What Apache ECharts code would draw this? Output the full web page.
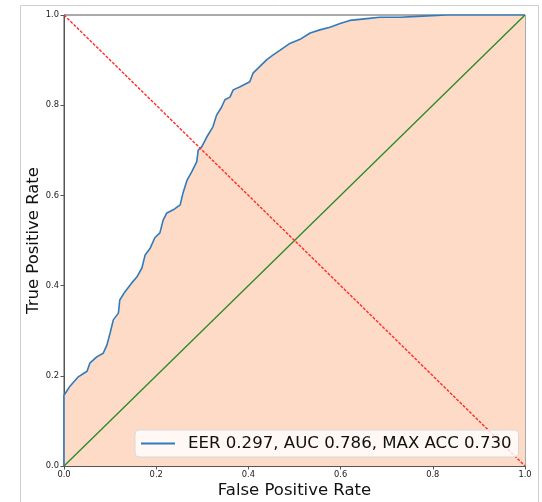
<!DOCTYPE html>
<html>
  <head>
    <meta charset="utf-8" />
    <title>ROC</title>
    <script src="https://cdn.jsdelivr.net/npm/echarts@6/dist/echarts.min.js"></script>
    <style>
      * {
        margin: 0;
        padding: 0;
        box-sizing: border-box;
      }
    </style>
  </head>
  <body>
    <div id="main" style="width: 542px; height: 502px"></div>
    <script type="text/javascript">
      var myChart = echarts.init(document.getElementById("main"));

      // ROC curve
      const fpr = [0, 0, 0.013, 0.03, 0.05, 0.056, 0.071, 0.085, 0.093, 0.1, 0.107, 0.118, 0.121, 0.132, 0.147, 0.158, 0.169, 0.176, 0.187, 0.197, 0.208, 0.215, 0.223, 0.237, 0.252, 0.258, 0.267, 0.277, 0.288, 0.291, 0.299, 0.31, 0.323, 0.331, 0.342, 0.349, 0.36, 0.367, 0.382, 0.403, 0.41, 0.425, 0.44, 0.453, 0.469, 0.49, 0.512, 0.534, 0.555, 0.577, 0.599, 0.62, 0.657, 0.685, 0.729, 0.766, 0.83, 1];
      const tpr = [0, 0.157, 0.177, 0.197, 0.21, 0.228, 0.242, 0.25, 0.268, 0.295, 0.324, 0.339, 0.368, 0.386, 0.406, 0.419, 0.439, 0.468, 0.483, 0.506, 0.517, 0.545, 0.561, 0.568, 0.579, 0.605, 0.634, 0.652, 0.675, 0.7, 0.708, 0.73, 0.752, 0.778, 0.796, 0.812, 0.818, 0.834, 0.841, 0.852, 0.871, 0.886, 0.901, 0.911, 0.922, 0.937, 0.946, 0.96, 0.967, 0.973, 0.981, 0.988, 0.992, 0.995, 0.995, 0.997, 1, 1];

      const eerLine = [[0, 1], [1, 0]];
      const chanceLine = [[0, 0], [1, 1]];
      const legendText = "EER 0.297, AUC 0.786, MAX ACC 0.730";

      const font = "DejaVu Sans";

      var option = {
        animation: false,
        graphic: [
          {
            // notebook output frame
            type: "rect",
            shape: { x: 20.5, y: 5.5, width: 518, height: 520 },
            style: { fill: "none", stroke: "#cfcfcf", lineWidth: 1 },
            silent: true,
          },
        ],
        grid: {
          left: 64,
          right: 17,
          top: 15,
          bottom: 36,
          outerBoundsMode: "none",
          show: true,
          borderColor: "#555",
          borderWidth: 1,
        },
        legend: {
          left: 135,
          top: 430,
          data: [{ name: legendText, icon: "rect" }],
          itemWidth: 34,
          itemHeight: 2,
          padding: [5, 7, 5, 6],
          backgroundColor: "rgba(255,255,255,0.8)",
          borderColor: "#d8d8d8",
          borderWidth: 1,
          borderRadius: 4,
          textStyle: {
            fontFamily: font,
            fontSize: 16.6,
            color: "#111",
            padding: [0, 0, 0, 8],
          },
        },
        xAxis: {
          type: "value",
          min: 0,
          max: 1,
          interval: 0.2,
          name: "False Positive Rate",
          nameLocation: "middle",
          nameGap: 16.5,
          nameMoveOverlap: false,
          nameTextStyle: { fontFamily: font, fontSize: 16.5, color: "#111" },
          splitLine: { show: false },
          axisLine: { lineStyle: { color: "#555", width: 1 } },
          axisTick: { length: 3.5, lineStyle: { color: "#555" } },
          axisLabel: {
            fontFamily: font,
            fontSize: 8.3,
            color: "#222",
            margin: 5,
            formatter: (v) => v.toFixed(1),
          },
        },
        yAxis: {
          type: "value",
          min: 0,
          max: 1,
          interval: 0.2,
          name: "True Positive Rate",
          nameLocation: "middle",
          nameGap: 22,
          nameMoveOverlap: false,
          nameTextStyle: { fontFamily: font, fontSize: 16.5, color: "#111" },
          splitLine: { show: false },
          axisLine: { lineStyle: { color: "#555", width: 1 } },
          axisTick: { length: 3.5, lineStyle: { color: "#555" } },
          axisLabel: {
            fontFamily: font,
            fontSize: 8.3,
            color: "#222",
            margin: 5,
            formatter: (v) => v.toFixed(1),
          },
        },
        series: [
          {
            name: legendText,
            type: "line",
            data: fpr.map((x, i) => [x, tpr[i]]),
            showSymbol: false,
            color: "#2f7bbd",
            lineStyle: { color: "#2f7bbd", width: 1.6 },
            areaStyle: { color: "rgb(253,219,199)", opacity: 1 },
            z: 2,
          },
          {
            type: "line",
            data: chanceLine,
            showSymbol: false,
            lineStyle: { color: "#278a27", width: 1.3 },
            z: 3,
          },
          {
            type: "line",
            data: eerLine,
            showSymbol: false,
            lineStyle: { color: "#ff2a2a", width: 1.4, type: [3, 1.5] },
            z: 3,
          },
        ],
      };

      myChart.setOption(option);

      window.addEventListener("resize", function () {
        myChart.resize();
      });
    </script>
  </body>
</html>
